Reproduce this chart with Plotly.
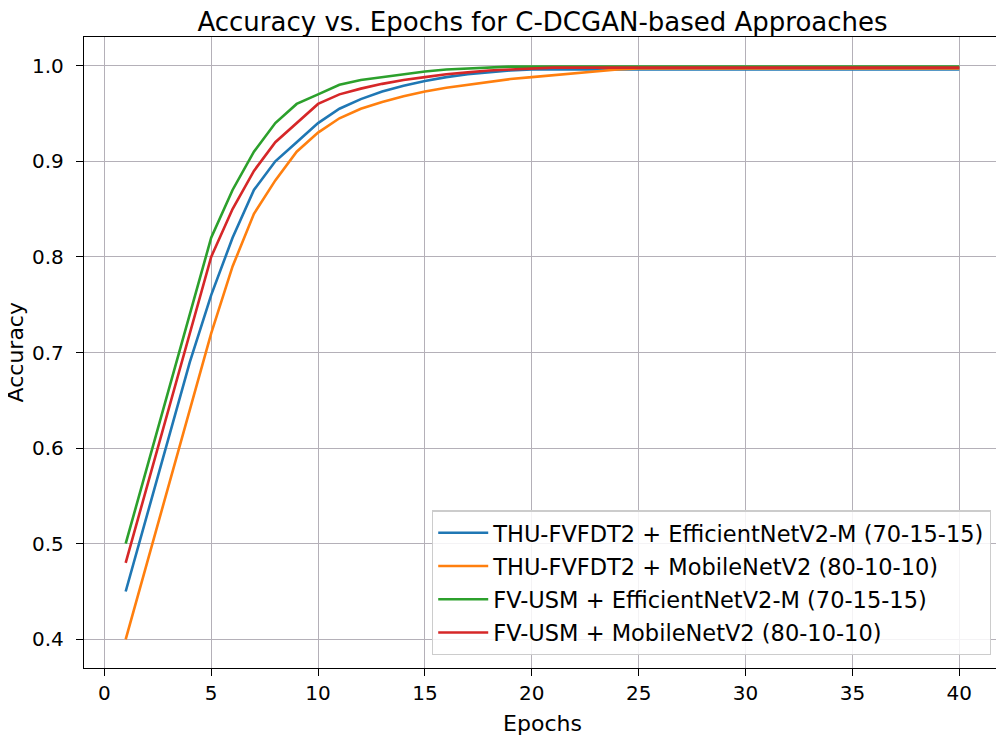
import plotly.graph_objects as go

# Accuracy per epoch
epochs = list(range(1, 41))

thu_effnet = [0.45, 0.53, 0.61, 0.69, 0.76, 0.82, 0.87, 0.90, 0.92, 0.94,
              0.955, 0.965, 0.973, 0.979, 0.984, 0.988, 0.991, 0.993, 0.995, 0.996] + [0.996] * 20
thu_mobilenet = [0.40, 0.48, 0.56, 0.64, 0.72, 0.79, 0.845, 0.88, 0.91, 0.93,
                 0.945, 0.955, 0.962, 0.968, 0.973, 0.977, 0.980, 0.983, 0.986, 0.988,
                 0.990, 0.992, 0.994, 0.996, 0.997] + [0.997] * 15
usm_effnet = [0.50, 0.58, 0.66, 0.74, 0.82, 0.87, 0.91, 0.94, 0.96, 0.97,
              0.98, 0.985, 0.988, 0.991, 0.994, 0.996, 0.997, 0.998, 0.999] + [0.999] * 21
usm_mobilenet = [0.48, 0.56, 0.64, 0.72, 0.80, 0.85, 0.89, 0.92, 0.94, 0.96,
                 0.97, 0.976, 0.981, 0.985, 0.988, 0.991, 0.993, 0.995, 0.996, 0.997,
                 0.998] + [0.998] * 19

series_names = ["THU-FVFDT2 + EfficientNetV2-M (70-15-15)",
                "THU-FVFDT2 + MobileNetV2 (80-10-10)",
                "FV-USM + EfficientNetV2-M (70-15-15)",
                "FV-USM + MobileNetV2 (80-10-10)"]
series_values = [thu_effnet, thu_mobilenet, usm_effnet, usm_mobilenet]
colors = ["#1f77b4", "#ff7f0e", "#2ca02c", "#d62728"]

x_ticks = [0, 5, 10, 15, 20, 25, 30, 35, 40]
y_ticks = [0.4, 0.5, 0.6, 0.7, 0.8, 0.9, 1.0]

font_family = "DejaVu Sans"

fig = go.Figure()

for i, (name, vals) in enumerate(zip(series_names, series_values)):
    fig.add_trace(go.Scatter(x=epochs, y=vals, mode="lines", name=name,
                             line=dict(color=colors[i], width=2.6),
                             legendgroup="g" + str(i)))

axis_style = dict(showline=True, linewidth=1.4, linecolor="black", mirror=True,
                  zeroline=False, showgrid=True, gridcolor="#b4b0b8", gridwidth=1.2,
                  ticks="outside", ticklen=7, tickwidth=1.4, tickcolor="black",
                  automargin=False,
                  tickfont=dict(size=20, color="black", family=font_family))

fig.update_xaxes(range=[-0.95, 41.95], tickvals=x_ticks,
                 ticktext=[str(t) for t in x_ticks],
                 title=dict(text="Epochs", font=dict(size=22, color="black", family=font_family),
                            standoff=11),
                 **axis_style)
fig.update_yaxes(range=[0.37, 1.03], tickvals=y_ticks,
                 ticktext=["%.1f" % t for t in y_ticks],
                 ticklabelstandoff=8,
                 **axis_style)

# y label as annotation so it can sit close to the page edge like the original
fig.add_annotation(text="Accuracy", textangle=-90, xref="paper", yref="paper",
                   x=-0.0742, y=0.5, xanchor="center", yanchor="middle", showarrow=False,
                   borderpad=0,
                   font=dict(size=22, color="black", family=font_family))

# page body adds an 8px offset, so the figure is sized to fill the rest
fig.update_layout(
    width=996, height=730,
    margin=dict(l=76, r=3, t=29, b=70),
    paper_bgcolor="white", plot_bgcolor="white",
    font=dict(family=font_family, color="black"),
    title=dict(text="Accuracy vs. Epochs for C-DCGAN-based Approaches",
               font=dict(size=26, color="black", family=font_family),
               x=0.5, xref="paper", xanchor="center",
               y=0.993, yref="container", yanchor="top"),
    legend=dict(x=0.989, y=0.02, xanchor="right", yanchor="bottom",
                bgcolor="rgba(255,255,255,0.85)", bordercolor="#cccccc", borderwidth=1.3,
                font=dict(size=22.5, color="black", family=font_family),
                itemwidth=50, tracegroupgap=1),
    showlegend=True,
)

fig.write_html("out.html")
